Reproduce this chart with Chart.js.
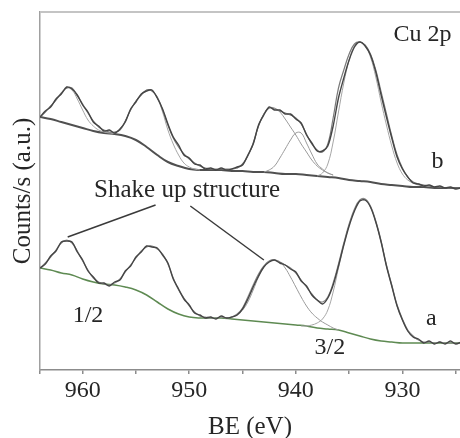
<!DOCTYPE html>
<html>
<head>
<meta charset="utf-8">
<script src="https://cdn.jsdelivr.net/npm/chart.js@4"></script>
<style>
  body { margin: 0; background: #fff; }
  #wrap { width: 460px; height: 438px; }
</style>
</head>
<body>
<div id="wrap"><canvas id="xps" width="460" height="438"></canvas></div>
<script>
// Binding energy grid of the measured spectra (eV)
const beGrid = [
  964, 963.5, 963, 962.5, 962, 961.5, 961, 960.5, 960, 959.5,
  959, 958.5, 958, 957.5, 957, 956.5, 956, 955.5, 955, 954.5,
  954, 953.5, 953, 952.5, 952, 951.5, 951, 950.5, 950, 949.5,
  949, 948.5, 948, 947.5, 947, 946.5, 946, 945.5, 945, 944.5,
  944, 943.5, 943, 942.5, 942, 941.5, 941, 940.5, 940, 939.5,
  939, 938.5, 938, 937.5, 937, 936.5, 936, 935.5, 935, 934.5,
  934, 933.5, 933, 932.5, 932, 931.5, 931, 930.5, 930, 929.5,
  929, 928.5, 928, 927.5, 927, 926.5, 926, 925.5, 925, 924.5
];

// spectrum b (upper) - raw counts and fit envelope, arbitrary units
const rawB = [
  253, 259, 263, 271, 276, 283, 281, 275, 265, 258,
  248, 244, 239, 240, 237, 241, 248, 261, 268, 276,
  279, 280, 272, 261, 246, 233, 225, 215, 212, 206,
  205, 201, 202, 200, 202, 200, 201, 203, 205, 215,
  226, 245, 255, 263, 260, 260, 256, 256, 251, 247,
  235, 227, 219, 219, 224, 244, 272, 292, 310, 323,
  328, 324, 315, 298, 275, 253, 232, 213, 201, 193,
  187, 186, 184, 185, 183, 184, 182, 183, 181, 182
];
const fitB = [
  253, 258, 264, 270, 277, 282, 282, 274, 266, 257,
  249, 243, 240, 238, 238, 240, 249, 260, 269, 275,
  280, 279, 273, 260, 245, 232, 223, 216, 211, 207,
  204, 202, 201, 201, 201, 201, 201, 202, 206, 214,
  227, 244, 256, 262, 261, 259, 257, 255, 252, 246,
  236, 226, 220, 218, 226, 252, 282, 300, 316, 326,
  328, 325, 316, 300, 278, 256, 234, 215, 202, 193,
  188, 186, 185, 184, 183, 183, 182, 182, 182, 182
];

// spectrum a (lower)
const rawA = [
  102, 106, 114, 119, 128, 129, 128, 118, 110, 99,
  93, 87, 87, 84, 88, 90, 99, 104, 113, 118,
  124, 123, 122, 115, 107, 91, 81, 71, 65, 57,
  55, 52, 53, 51, 54, 52, 53, 55, 61, 71,
  83, 94, 103, 108, 110, 107, 105, 101, 98, 89,
  84, 75, 70, 66, 72, 85, 104, 125, 144, 159,
  169, 170, 163, 148, 128, 104, 84, 64, 50, 39,
  33, 31, 27, 29, 26, 28, 26, 29, 26, 28
];
const fitA = [
  102, 107, 113, 120, 127, 130, 127, 119, 109, 100,
  92, 88, 86, 85, 87, 91, 98, 105, 112, 119,
  123, 124, 121, 116, 106, 92, 80, 72, 64, 58,
  54, 53, 52, 52, 53, 52, 53, 56, 62, 73,
  85, 96, 104, 109, 110, 108, 105, 102, 97, 90,
  83, 76, 70, 68, 73, 87, 106, 127, 146, 161,
  170, 171, 164, 149, 129, 105, 85, 65, 51, 40,
  34, 30, 28, 28, 27, 28, 27, 27, 27, 27
];

// Shirley-type backgrounds
const bgGrid = [
  964, 963, 962, 961, 960, 959, 958, 957, 956, 955,
  954, 953, 952, 951, 950, 949, 948, 947, 946, 945,
  944, 943, 942, 941, 940, 939, 938, 937, 936, 935,
  934, 933, 932, 931, 930, 929, 928, 927, 926, 925, 924.5
];
const bgB = [
  253, 251, 248, 245, 242, 239, 237, 236, 234, 230,
  223, 215, 208, 204, 201, 200, 200, 200, 199, 199,
  198, 198, 197, 196, 196, 195, 194, 193, 192, 190,
  189, 188, 186, 185, 184, 183, 183, 182, 182, 182, 182
];
const bgA = [
  102, 100, 97, 95, 91, 88, 86, 85, 83, 80,
  75, 68, 61, 56, 53, 52, 52, 52, 51, 50,
  49, 48, 47, 46, 45, 44, 42, 41, 40, 37,
  34, 31, 29, 28, 27, 27, 27, 27, 27, 27, 27
];

// fitted components
const compB1X = [964, 963.5, 963, 962.5, 962, 961.5, 961, 960.5, 960, 959.5, 959, 958.5, 958, 957.5];
const compB1Y = [253, 258, 264, 270, 277, 282, 280, 271, 260, 250, 244, 240, 238, 237];
const compB2X = [957.5, 957, 956.5, 956, 955.5, 955, 954.5, 954, 953.5, 953, 952.5, 952, 951.5, 951, 950.5, 950, 949.5, 949];
const compB2Y = [236, 237, 241, 249, 260, 269, 275, 280, 279, 272, 258, 240, 226, 215, 207, 203, 201, 200];
const compB3X = [945.5, 945, 944.5, 944, 943.5, 943, 942.5, 942, 941.5, 941, 940.5, 940, 939.5, 939, 938.5, 938, 937.5, 937, 936.5];
const compB3Y = [202, 206, 214, 226, 244, 256, 262, 262, 258, 251, 243, 235, 226, 218, 210, 204, 200, 197, 195];
const compB4X = [943, 942.5, 942, 941.5, 941, 940.5, 940, 939.5, 939, 938.5, 938, 937.5, 937, 936.5];
const compB4Y = [198, 200, 204, 212, 221, 230, 237, 237, 227, 216, 206, 201, 197, 195];
const compB5X = [938, 937.5, 937, 936.5, 936, 935.5, 935, 934.5, 934, 933.5, 933, 932.5, 932, 931.5, 931, 930.5, 930, 929.5, 929, 928.5, 928];
const compB5Y = [194, 197, 206, 228, 258, 287, 310, 324, 328, 324, 313, 293, 268, 245, 224, 207, 196, 190, 187, 185, 184];
const compA3X = [945.5, 945, 944.5, 944, 943.5, 943, 942.5, 942, 941.5, 941, 940.5, 940, 939.5, 939, 938.5, 938, 937.5, 937, 936.5, 936];
const compA3Y = [56, 60, 68, 80, 93, 103, 109, 110, 108, 102, 93, 83, 73, 64, 57, 52, 48, 45, 42, 40];
const compA5X = [939.5, 939, 938.5, 938, 937.5, 937, 936.5, 936, 935.5, 935, 934.5, 934, 933.5, 933, 932.5, 932, 931.5, 931, 930.5, 930, 929.5, 929, 928.5];
const compA5Y = [44, 44, 45, 47, 51, 60, 78, 102, 125, 145, 160, 169, 170, 163, 148, 128, 104, 84, 64, 50, 39, 33, 30];

// axis ticks (eV); labels only every 10 eV
const xTicks = [964, 960, 955, 950, 945, 940, 935, 930, 925];

const FONT = "'Liberation Serif', 'Times New Roman', serif";
const INK = "#262626";

function pts(xs, ys) {
  return xs.map((x, i) => ({ x: x, y: ys[i] }));
}

function line(data, color, width, order, tension) {
  return {
    data: data,
    borderColor: color,
    borderWidth: width,
    pointRadius: 0,
    fill: false,
    tension: tension,
    order: order
  };
}

// text labels + pointer lines, placed in data coordinates
const notes = {
  id: "notes",
  beforeDatasetsDraw(chart) {
    const { ctx, chartArea } = chart;
    ctx.save();
    ctx.strokeStyle = "#c4c4c4";
    ctx.lineWidth = 2;
    ctx.beginPath();
    ctx.moveTo(chartArea.left, chartArea.top);
    ctx.lineTo(chartArea.right, chartArea.top);
    ctx.stroke();
    ctx.restore();
  },
  afterDatasetsDraw(chart) {
    const { ctx } = chart;
    const x = chart.scales.x, y = chart.scales.y;
    ctx.save();
    ctx.fillStyle = INK;
    ctx.textBaseline = "alphabetic";
    const txt = [
      ["Cu 2p", 930.84, 329, "left", 24],
      ["b", 926.7, 202, "center", 24],
      ["a", 927.3, 45, "center", 24],
      ["1/2", 959.5, 48, "center", 24],
      ["3/2", 936.8, 16, "center", 24],
      ["Shake up structure", 950.2, 173, "center", 25]
    ];
    txt.forEach(t => {
      ctx.font = t[4] + "px " + FONT;
      ctx.textAlign = t[3];
      ctx.fillText(t[0], x.getPixelForValue(t[1]), y.getPixelForValue(t[2]));
    });
    ctx.strokeStyle = "#3a3a3a";
    ctx.lineWidth = 1.5;
    const ptr = [[953.16, 165, 961.4, 133], [949.9, 164, 943.0, 110]];
    ptr.forEach(p => {
      ctx.beginPath();
      ctx.moveTo(x.getPixelForValue(p[0]), y.getPixelForValue(p[1]));
      ctx.lineTo(x.getPixelForValue(p[2]), y.getPixelForValue(p[3]));
      ctx.stroke();
    });
    ctx.restore();
  }
};

const chart = new Chart(document.getElementById("xps"), {
  type: "line",
  data: {
    datasets: [
      line(pts(beGrid, rawB), "#454545", 1.4, 0, 0.3),
      line(pts(beGrid, rawA), "#454545", 1.4, 0, 0.3),
      line(pts(beGrid, fitB), "#7a7a7a", 1.2, 1, 0.4),
      line(pts(beGrid, fitA), "#8a8a8a", 1.2, 1, 0.4),
      line(pts(compB1X, compB1Y), "#a6a6a6", 1, 2, 0.4),
      line(pts(compB2X, compB2Y), "#a6a6a6", 1, 2, 0.4),
      line(pts(compB3X, compB3Y), "#9a9a9a", 1, 2, 0.4),
      line(pts(compB4X, compB4Y), "#9a9a9a", 1, 2, 0.4),
      line(pts(compB5X, compB5Y), "#a6a6a6", 1, 2, 0.4),
      line(pts(compA3X, compA3Y), "#9a9a9a", 1, 2, 0.4),
      line(pts(compA5X, compA5Y), "#a6a6a6", 1, 2, 0.4),
      line(pts(bgGrid, bgB), "#505050", 2, 3, 0.4),
      line(pts(bgGrid, bgA), "#5e8a52", 1.5, 3, 0.4)
    ]
  },
  options: {
    responsive: false,
    animation: false,
    devicePixelRatio: 1,
    layout: { padding: { top: 12, right: 0, left: 0, bottom: 0 } },
    plugins: { legend: { display: false }, tooltip: { enabled: false } },
    scales: {
      x: {
        type: "linear",
        reverse: true,
        min: 924.6,
        max: 964,
        afterBuildTicks: axis => { axis.ticks = xTicks.map(v => ({ value: v })); },
        afterFit: s => { s.height = 68; },
        ticks: {
          autoSkip: false,
          maxRotation: 0,
          padding: 2,
          color: INK,
          font: { family: FONT, size: 24 },
          callback: v => (v % 10 === 0 ? String(v) : "")
        },
        grid: { drawOnChartArea: false, drawTicks: true, tickLength: 4, color: "#8c8c8c", lineWidth: 1.5 },
        border: { color: "#8c8c8c", width: 1.5 },
        title: { display: true, text: "BE (eV)", color: INK, font: { family: FONT, size: 25 }, padding: { top: 0, bottom: -4 } }
      },
      y: {
        min: 0,
        max: 358,
        afterFit: s => { s.width = 40; },
        ticks: { display: false },
        grid: { display: false },
        border: { color: "#a0a0a0", width: 1.5 },
        title: { display: true, text: "Counts/s (a.u.)", color: INK, font: { family: FONT, size: 25 }, padding: { top: 8, bottom: 0 } }
      }
    }
  },
  plugins: [notes]
});
</script>
</body>
</html>
